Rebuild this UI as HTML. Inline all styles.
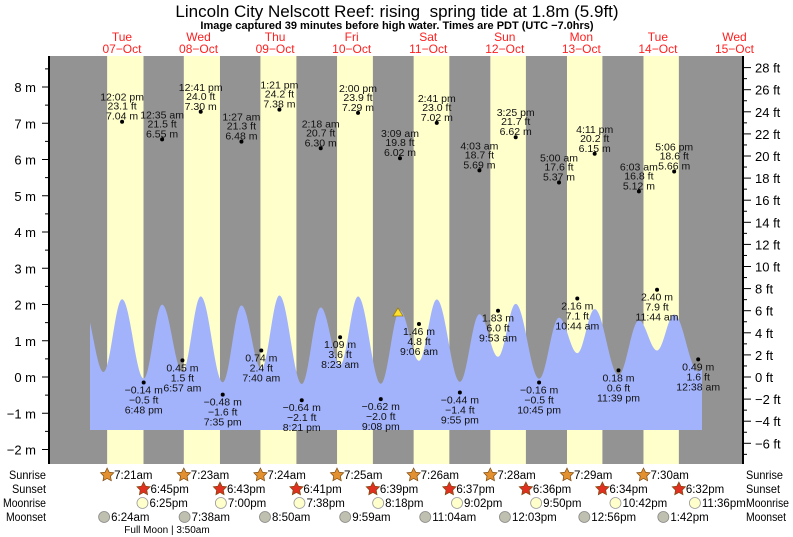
<!DOCTYPE html>
<html><head><meta charset="utf-8"><style>
html,body{margin:0;padding:0;background:#fff;}
svg{display:block;font-family:"Liberation Sans",sans-serif;}
</style></head><body>
<svg id="s" width="793" height="537" xmlns="http://www.w3.org/2000/svg"></svg>
<script>
const s=document.getElementById('s');let o='';
const X=h=>83.7+3.19*h, Y=v=>377-v*11.05;
const T=56,B=464,L=49,R=743;
o+=`<rect x="${L}" y="${T}" width="${R-L}" height="${B-T}" fill="#939393"/>`;
const sr=[7.35,7.38,7.4,7.42,7.43,7.47,7.5,7.48,7.5], ss=[18.75,18.72,18.68,18.65,18.62,18.62,18.6,18.57,18.53];
for(let d=0;d<8;d++){const a=X(d*24+sr[d]),b=X(d*24+ss[d]);o+=`<rect x="${a}" y="${T}" width="${b-a}" height="${B-T}" fill="#ffffcc"/>`;}
const ex=[[-0.2,6.5],[6.2,0.45],[12.03,7.04],[18.8,-0.14],[24.58,6.55],[30.95,0.45],[36.68,7.30],[43.58,-0.48],[49.45,6.48],[55.67,0.74],[61.35,7.38],[68.35,-0.64],[74.3,6.30],[80.38,1.09],[86,7.29],[93.13,-0.62],[99.15,6.02],[105.1,1.46],[110.68,7.02],[117.92,-0.44],[124.05,5.69],[129.88,1.83],[135.42,6.62],[142.75,-0.16],[149,5.37],[154.73,2.16],[160.18,6.15],[167.65,0.18],[174.05,5.12],[179.73,2.40],[185.1,5.66],[192.63,0.49],[199,5]];
function val(h){for(let i=0;i<ex.length-1;i++){const[a,va]=ex[i],[b,vb]=ex[i+1];if(h>=a&&h<=b){const t=(h-a)/(b-a);return va+(vb-va)*(1-Math.cos(Math.PI*t))/2;}}return 0;}
const x0=90,x1=702;let p=`M${x0},430`;
for(let x=x0;x<=x1;x+=1){p+=` L${x},${Y(val((x-83.7)/3.19)).toFixed(1)}`;}
p+=` L${x1},430 Z`;o+=`<path d="${p}" fill="#a2b3fb"/>`;
o+=`<line x1="${L}" y1="${T}" x2="${L}" y2="${B}" stroke="#000" stroke-width="2"/>`;
o+=`<line x1="${R}" y1="${T}" x2="${R}" y2="${B}" stroke="#000" stroke-width="2"/>`;
for(let m=-2.5;m<=8.5;m+=0.5){const y=377-m*36.25;if(y<T||y>B)continue;const maj=Number.isInteger(m);o+=`<line x1="${maj?42:45}" y1="${y}" x2="${L}" y2="${y}" stroke="#000"/>`;if(maj)o+=`<text x="36" y="${y+5}" font-size="13" text-anchor="end">${m<0?'−'+(-m):m} m</text>`;}
for(let f=-7;f<=28;f++){const y=Y(f);if(y<T||y>B)continue;const maj=f%2==0;o+=`<line x1="${R}" y1="${y}" x2="${maj?751:747}" y2="${y}" stroke="#000"/>`;if(maj)o+=`<text x="755" y="${y+5}" font-size="13">${f<0?'−'+(-f):f} ft</text>`;}
o+=`<text x="397" y="17" font-size="17" text-anchor="middle">Lincoln City Nelscott Reef: rising&#160; spring tide at 1.8m (5.9ft)</text>`;
o+=`<text x="397" y="29" font-size="11" font-weight="bold" text-anchor="middle">Image captured 39 minutes before high water. Times are PDT (UTC −7.0hrs)</text>`;
const dn=['Tue','Wed','Thu','Fri','Sat','Sun','Mon','Tue','Wed'];
for(let d=0;d<9;d++){const x=X(d*24+12);o+=`<text x="${x}" y="41" font-size="12" fill="#ff2020" text-anchor="middle">${dn[d]}</text><text x="${x}" y="53" font-size="12" fill="#ff2020" text-anchor="middle">${(7+d<10?'0':'')+(7+d)}−Oct</text>`;}
const hi=[[12.03,'12:02 pm','23.1','7.04'],[24.58,'12:35 am','21.5','6.55'],[36.68,'12:41 pm','24.0','7.30'],[49.45,'1:27 am','21.3','6.48'],[61.35,'1:21 pm','24.2','7.38'],[74.3,'2:18 am','20.7','6.30'],[86,'2:00 pm','23.9','7.29'],[99.15,'3:09 am','19.8','6.02'],[110.68,'2:41 pm','23.0','7.02'],[124.05,'4:03 am','18.7','5.69'],[135.42,'3:25 pm','21.7','6.62'],[149,'5:00 am','17.6','5.37'],[160.18,'4:11 pm','20.2','6.15'],[174.05,'6:03 am','16.8','5.12'],[185.1,'5:06 pm','18.6','5.66']];
const lo=[[18.8,'6:48 pm','-0.5','-0.14'],[30.95,'6:57 am','1.5','0.45'],[43.58,'7:35 pm','-1.6','-0.48'],[55.67,'7:40 am','2.4','0.74'],[68.35,'8:21 pm','-2.1','-0.64'],[80.38,'8:23 am','3.6','1.09'],[93.13,'9:08 pm','-2.0','-0.62'],[105.1,'9:06 am','4.8','1.46'],[117.92,'9:55 pm','-1.4','-0.44'],[129.88,'9:53 am','6.0','1.83'],[142.75,'10:45 pm','-0.5','-0.16'],[154.73,'10:44 am','7.1','2.16'],[167.65,'11:39 pm','0.6','0.18'],[179.73,'11:44 am','7.9','2.40'],[192.63,'12:38 am','1.6','0.49']];
const mn=s=>s.replace('-','−');
const tx=(x,y,t)=>`<text x="${x.toFixed(1)}" y="${y.toFixed(1)}" font-size="10.5" text-anchor="middle" fill="#111">${t}</text>`;
hi.forEach(([h,t,f,m])=>{const x=X(h),y=Y(+f);o+=`<circle cx="${x}" cy="${y}" r="2" fill="#000"/>`+tx(x,y-21,t)+tx(x,y-12,f+' ft')+tx(x,y-2,m+' m');});
lo.forEach(([h,t,f,m])=>{const x=X(h),y=Y(+f);o+=`<circle cx="${x}" cy="${y}" r="2" fill="#000"/>`+tx(x,y+11,mn(m)+' m')+tx(x,y+21,mn(f)+' ft')+tx(x,y+31,t);});
o+=`<polygon points="398,308 393,316 403,316" fill="#ffe030" stroke="#a08000" stroke-width="0.8"/>`;
const rows=[['Sunrise',479,37],['Sunset',493,34],['Moonrise',507,43],['Moonset',521,40]];
rows.forEach(([n,y,w])=>{o+=`<text x="${46-w}" y="${y}" font-size="12" textLength="${w}" lengthAdjust="spacingAndGlyphs">${n}</text><text x="746" y="${y}" font-size="12" textLength="${w}" lengthAdjust="spacingAndGlyphs">${n}</text>`;});
function star(cx,cy,fill){let pts=[];for(let i=0;i<10;i++){const r=i%2?3.5:7,a=-Math.PI/2+i*Math.PI/5;pts.push((cx+r*Math.cos(a)).toFixed(1)+','+(cy+r*Math.sin(a)).toFixed(1));}return `<polygon points="${pts.join(' ')}" fill="${fill}" stroke="#7a4a10" stroke-width="0.7"/>`;}
const srt=['7:21am','7:23am','7:24am','7:25am','7:26am','7:28am','7:29am','7:30am'];
const sst=['6:45pm','6:43pm','6:41pm','6:39pm','6:37pm','6:36pm','6:34pm','6:32pm'];
for(let d=0;d<8;d++){let x=X(d*24+sr[d]);o+=star(x,475,'#e39030')+`<text x="${x+7}" y="479" font-size="11.5">${srt[d]}</text>`;
x=X(d*24+ss[d]);o+=star(x,489,'#e03020')+`<text x="${x+7}" y="493" font-size="11.5">${sst[d]}</text>`;}
const mr=[[18.42,'6:25pm'],[43,'7:00pm'],[67.63,'7:38pm'],[92.3,'8:18pm'],[117.03,'9:02pm'],[141.83,'9:50pm'],[166.7,'10:42pm'],[191.6,'11:36pm']];
mr.forEach(([h,t])=>{const x=X(h);o+=`<circle cx="${x}" cy="503" r="5.5" fill="#ffffcc" stroke="#999" stroke-width="0.8"/><text x="${x+7}" y="507" font-size="11.5">${t}</text>`;});
const ms=[[6.4,'6:24am'],[31.63,'7:38am'],[56.83,'8:50am'],[81.98,'9:59am'],[107.07,'11:04am'],[132.05,'12:03pm'],[156.93,'12:56pm'],[181.7,'1:42pm']];
ms.forEach(([h,t])=>{const x=X(h);o+=`<circle cx="${x}" cy="517" r="5.5" fill="#c0c0b0" stroke="#888" stroke-width="0.8"/><text x="${x+7}" y="521" font-size="11.5">${t}</text>`;});
o+=`<text x="167" y="533" font-size="10" text-anchor="middle">Full Moon | 3:50am</text>`;
s.innerHTML=o;
</script>
</body></html>
